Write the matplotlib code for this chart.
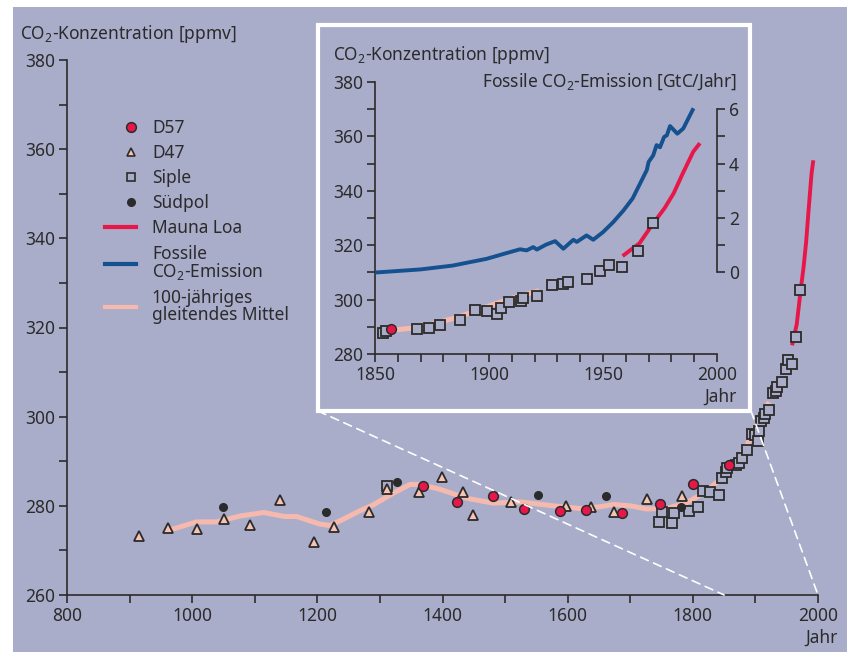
import matplotlib
matplotlib.use('Agg')
import matplotlib.pyplot as plt
from matplotlib.patches import Rectangle, ConnectionPatch
from matplotlib.lines import Line2D
from matplotlib.legend_handler import HandlerLine2D
import numpy as np

plt.rcParams['font.family'] = ['Noto Sans', 'DejaVu Sans']
plt.rcParams['mathtext.fontset'] = 'custom'
plt.rcParams['mathtext.rm'] = 'Noto Sans'
plt.rcParams['mathtext.it'] = 'Noto Sans:italic'
plt.rcParams['font.size'] = 12.5

BG = '#a9adca'
INK = '#2b2b2b'
RED = '#e8174a'
BLUE = '#15508f'
PINK = '#f6b9ae'
TRI = '#f7c4b4'

# ice core data (year, ppmv)
d57_year = [1369, 1423, 1481, 1531, 1588, 1629, 1687, 1748, 1800, 1857]
d57_ppm = [284.5, 280.8, 282.1, 279.4, 278.8, 279.1, 278.3, 280.4, 284.9, 289.1]

d47_year = [915, 962, 1008, 1051, 1092, 1141, 1195, 1227, 1283, 1312, 1362,
            1399, 1432, 1449, 1510, 1598, 1637, 1674, 1726, 1782]
d47_ppm = [273.2, 275.0, 274.8, 277.0, 275.8, 281.3, 271.8, 275.3, 278.6, 283.7, 283.0,
           286.4, 283.0, 277.9, 280.8, 280.0, 279.7, 278.6, 281.5, 282.1]

siple_year = [1311, 1746, 1751, 1766, 1770, 1794, 1808, 1817, 1828, 1842, 1847,
              1853.6, 1854.7, 1868.3, 1873.8, 1878.5, 1887.3, 1893.9, 1899.0, 1903.6,
              1905.1, 1908.9, 1913.9, 1915.0, 1921.2, 1927.8, 1932.6, 1934.8, 1943.1,
              1948.7, 1952.8, 1958.2, 1965.5, 1971.8]
siple_ppm = [284.5, 276.4, 278.7, 276.1, 278.5, 278.9, 279.8, 283.4, 283.0, 282.4, 286.3,
             287.6, 288.5, 289.1, 289.6, 290.7, 292.5, 296.2, 295.9, 294.6,
             296.8, 299.0, 299.6, 300.7, 301.4, 305.2, 305.7, 306.6, 307.7,
             310.6, 312.6, 311.9, 317.9, 328.3]

suedpol_year = [1050, 1214, 1328, 1553, 1661, 1781]
suedpol_ppm = [279.7, 278.7, 285.3, 282.4, 282.1, 279.7]

mauna_year = [1958.6, 1962, 1966, 1972, 1977, 1981, 1985, 1989.6, 1992.5]
mauna_ppm = [316.0, 318.2, 320.7, 328.0, 333.6, 339.1, 346.4, 354.4, 357.5]

mean_year = [967, 1007, 1039, 1076, 1114, 1148, 1167, 1204, 1220, 1240, 1268, 1289,
             1321, 1348, 1364, 1396, 1439, 1481, 1524, 1577, 1620, 1652, 1673, 1700,
             1726, 1758, 1790, 1817, 1843, 1853, 1870, 1887, 1899, 1911, 1922]
mean_ppm = [274.7, 276.4, 276.4, 277.7, 278.5, 277.6, 277.6, 275.9, 275.6, 276.9, 278.9, 280.2,
            282.8, 284.8, 284.8, 283.7, 281.7, 280.6, 280.9, 280.0, 279.4, 279.8, 280.3, 280.0,
            279.3, 279.4, 280.7, 282.8, 285.8, 288.4, 289.8, 293.7, 297.4, 300.7, 303.3]

# fossil emission (GtC/Jahr)
emis_year = [1851, 1870, 1884, 1899, 1906, 1913.6, 1916.5, 1919.4, 1921, 1925, 1929,
             1932.6, 1937, 1938.5, 1942.8, 1945.7, 1950, 1954.5, 1959, 1963, 1969.2,
             1970, 1972, 1973.5, 1975, 1976.8, 1978, 1979.4, 1982.6, 1985.2, 1989.3]
emis_gtc = [0.0, 0.11, 0.25, 0.5, 0.67, 0.85, 0.81, 0.93, 0.84, 1.02, 1.15,
            0.87, 1.2, 1.12, 1.36, 1.2, 1.48, 1.85, 2.28, 2.72, 3.76,
            4.06, 4.3, 4.68, 4.6, 4.98, 5.04, 5.38, 5.1, 5.29, 5.97]

W, H = 847, 652
fig = plt.figure(figsize=(W / 100, H / 100), dpi=100)
fig.add_artist(Rectangle((13 / W, 0), 1, 1 - 7 / H, transform=fig.transFigure,
                         facecolor=BG, edgecolor='none', zorder=-10))


class RightMarker(HandlerLine2D):
    # legend symbols sit at the right end of the handle area, like in the original
    def create_artists(self, legend, orig_handle, xdescent, ydescent, width, height, fontsize, trans):
        artists = super().create_artists(legend, orig_handle, xdescent, ydescent,
                                         width, height, fontsize, trans)
        for a in artists:
            a.set_xdata(np.asarray(a.get_xdata()) + 0.34 * width)
        return artists


def draw_series(ax, mean_mask=None):
    my, mp = np.array(mean_year), np.array(mean_ppm)
    if mean_mask is not None:
        keep = my >= mean_mask
        my, mp = my[keep], mp[keep]
    ax.plot(my, mp, color=PINK, lw=3.6, zorder=1, solid_capstyle='butt', solid_joinstyle='round')
    ax.plot(mauna_year, mauna_ppm, color=RED, lw=2.8, zorder=1.5, solid_capstyle='butt')
    ax.plot(siple_year, siple_ppm, ls='none', marker='s', ms=6.5, mfc=BG, mec=INK, mew=1.3, zorder=2)
    ax.plot(d47_year, d47_ppm, ls='none', marker='^', ms=7, mfc=TRI, mec=INK, mew=1.3, zorder=3)
    ax.plot(d57_year, d57_ppm, ls='none', marker='o', ms=7, mfc=RED, mec=INK, mew=1.1, zorder=4)
    ax.plot(suedpol_year, suedpol_ppm, ls='none', marker='o', ms=5.5, mfc=INK, mec=INK, zorder=4)


def style_axis(ax):
    ax.set_facecolor('none')
    for s in ['top', 'right']:
        ax.spines[s].set_visible(False)
    for s in ['left', 'bottom']:
        ax.spines[s].set_color(INK)
        ax.spines[s].set_linewidth(1.2)
    ax.tick_params(which='both', direction='out', length=5.5, width=1.2, color=INK,
                   labelcolor=INK, pad=3)


# main axes
ax = fig.add_axes([67 / W, 1 - 595 / H, 751 / W, 535 / H])
style_axis(ax)
ax.set_xlim(800, 2000)
ax.set_ylim(260, 380)
ax.spines['left'].set_bounds(260, 380)
ax.set_xticks(np.arange(800, 2001, 200))
ax.set_xticks(np.arange(800, 2001, 100), minor=True)
ax.set_yticks(np.arange(260, 381, 20))
ax.set_yticks(np.arange(260, 381, 10), minor=True)
draw_series(ax)

marker_handles = [
    Line2D([], [], ls='none', marker='o', ms=7, mfc=RED, mec=INK, mew=1.1),
    Line2D([], [], ls='none', marker='^', ms=6, mfc=TRI, mec=INK, mew=1.2),
    Line2D([], [], ls='none', marker='s', ms=6, mfc=BG, mec=INK, mew=1.2),
    Line2D([], [], ls='none', marker='o', ms=5.5, mfc=INK, mec=INK),
]
line_handles = [
    Line2D([], [], color=RED, lw=3),
    Line2D([], [], color=BLUE, lw=3),
    Line2D([], [], color=PINK, lw=3),
]
labels = ['D57', 'D47', 'Siple', 'Südpol', 'Mauna Loa',
          'Fossile\nCO$_2$-Emission', '100-jähriges\ngleitendes Mittel']
hmap = {h: RightMarker(numpoints=1) for h in marker_handles}
leg = ax.legend(marker_handles + line_handles, labels, handler_map=hmap,
                loc='upper left', bbox_to_anchor=(105 / W, 1 - 119 / H),
                bbox_transform=fig.transFigure, frameon=False, borderpad=0, borderaxespad=0,
                handlelength=1.8, handletextpad=0.9, labelspacing=0.41, fontsize=12.5)
for t in leg.get_texts():
    t.set_color(INK)
    t.set_linespacing(0.9)

# inset frame and connector lines
fig.add_artist(Rectangle((318 / W, 1 - 411 / H), 432 / W, 386 / H, transform=fig.transFigure,
                         facecolor=BG, edgecolor='white', linewidth=3, zorder=2))
for corner, year in [((318 / W, 1 - 411 / H), 1850), ((751 / W, 1 - 411 / H), 2000)]:
    con = ConnectionPatch(xyA=corner, coordsA=fig.transFigure, xyB=(year, 260), coordsB=ax.transData,
                          color='white', lw=1.2, linestyle=(0, (5, 3.5)))
    con.set_zorder(1.5)
    fig.add_artist(con)

# inset axes
axi = fig.add_axes([375 / W, 1 - 354 / H, 342 / W, 272 / H], zorder=3)
style_axis(axi)
axi.set_xlim(1850, 2000)
axi.set_ylim(280, 380)
axi.spines['left'].set_bounds(280, 380)
axi.set_xticks(np.arange(1850, 2001, 50))
axi.set_xticks(np.arange(1850, 2001, 10), minor=True)
axi.set_yticks(np.arange(280, 381, 20))
axi.set_yticks(np.arange(280, 381, 10), minor=True)
draw_series(axi, mean_mask=1853)

axr = axi.twinx()
axr.set_zorder(4)
axr.set_facecolor('none')
for s in ['top', 'left', 'bottom']:
    axr.spines[s].set_visible(False)
axr.spines['right'].set_color(INK)
axr.spines['right'].set_linewidth(1.2)
axr.set_ylim(-3, 7)
axr.spines['right'].set_bounds(0, 6)
axr.set_yticks([0, 2, 4, 6])
axr.set_yticks([1, 3, 5], minor=True)
axr.tick_params(which='both', direction='out', length=5.5, width=1.2, color=INK,
                labelcolor=INK, pad=3)
axr.plot(emis_year, emis_gtc, color=BLUE, lw=2.8, solid_joinstyle='round')

# texts
fig.text(20 / W, 1 - 39 / H, 'CO$_2$-Konzentration [ppmv]', ha='left', va='baseline', color=INK)
fig.text(838 / W, 1 - 643 / H, 'Jahr', ha='right', va='baseline', color=INK)
fig.text(333 / W, 1 - 60 / H, 'CO$_2$-Konzentration [ppmv]', ha='left', va='baseline', color=INK, zorder=5)
fig.text(737 / W, 1 - 87 / H, 'Fossile CO$_2$-Emission [GtC/Jahr]', ha='right', va='baseline',
         color=INK, zorder=5)
fig.text(737 / W, 1 - 402 / H, 'Jahr', ha='right', va='baseline', color=INK, zorder=5)

fig.savefig('out.png', dpi=100)
